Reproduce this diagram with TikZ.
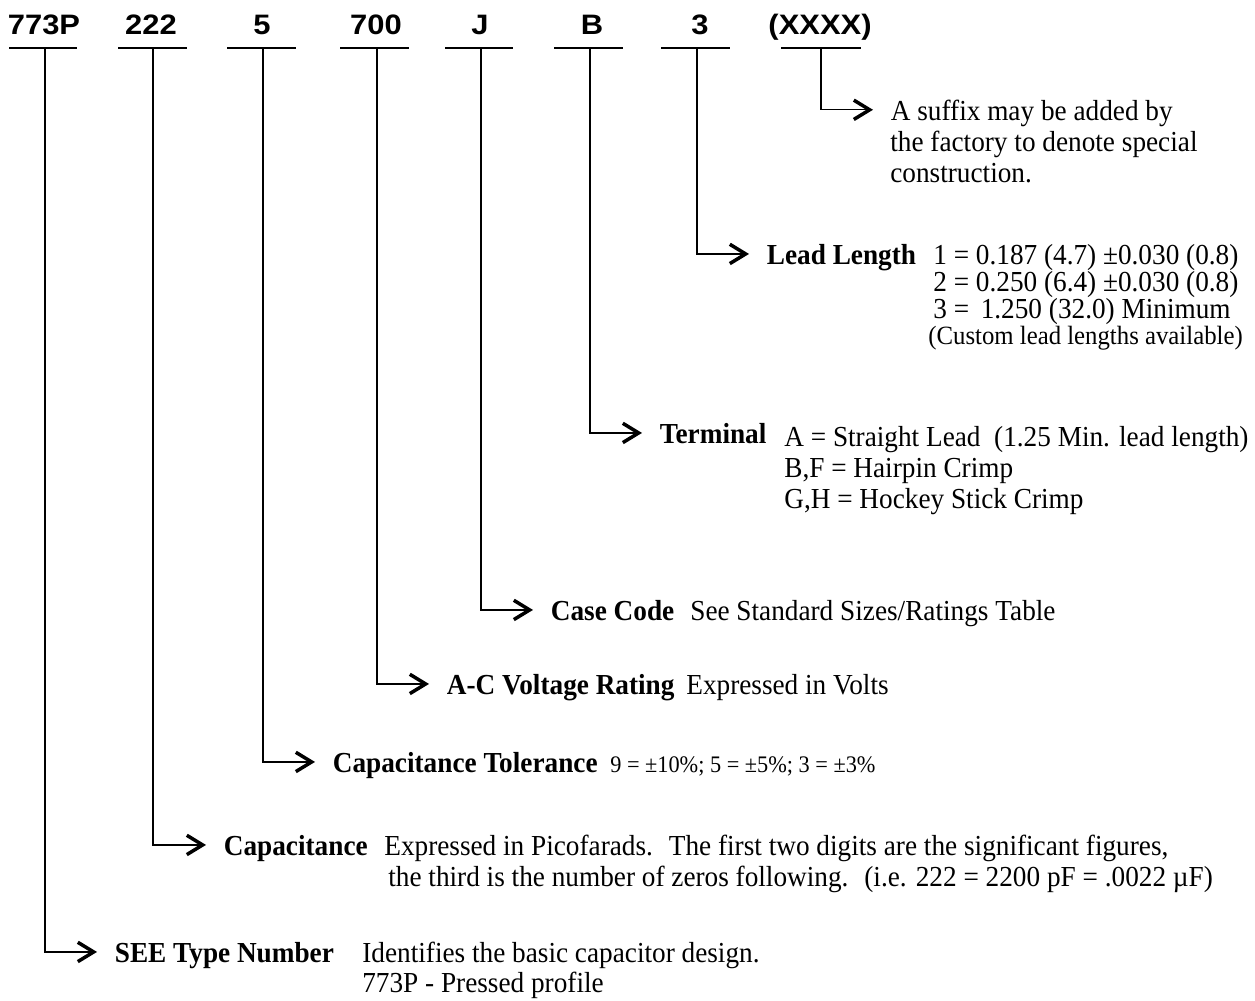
\documentclass[tikz,border=0pt]{standalone}
\usepackage{fontspec}
\setmainfont[FakeStretch=0.94]{Liberation Serif}
\newfontfamily\codefont[FakeStretch=1.1]{Liberation Sans}
\usepackage{tikz}
\usetikzlibrary{positioning, calc, arrows.meta}

\tikzset{
  code/.style = {font=\codefont\bfseries\fontsize{16}{18}\selectfont, inner sep=0pt, anchor=base},
  bar/.style = {line width=1.2pt},
  lead/.style = {line width=0.8pt, -{Straight Barb[length=9pt, width=11pt, line width=2pt]}},
  term/.style = {font=\bfseries\fontsize{16.5}{18}\selectfont, inner xsep=10pt, inner ysep=0pt, text depth=0pt, anchor=base west},
  termplain/.style = {term, font=\fontsize{16.5}{18}\selectfont},
  note/.style = {font=\fontsize{16.5}{18}\selectfont, inner sep=0pt, anchor=base west},
  fine/.style = {note, font=\fontsize{15}{16}\selectfont},
  tiny/.style = {note, font=\fontsize{13.5}{15}\selectfont}
}

\begin{document}
\begin{tikzpicture}[x=0.02cm, y=-0.02cm]
    \useasboundingbox (0,0) rectangle (1255,1001);

    % part number fields
    \foreach \n/\t/\cx/\ul/\ur/\vx in {773/773P/44/9/77/45, 222/222/151/118/187/153, 5/5/262/227/296/263, 700/700/376/340/409/377, J/J/480/445/513/481, B/B/592/554/623/590, 3/3/700/661/730/697, X/(XXXX)/820/781/861/821} {
        \node[code] (code\n) at (\cx,34) {\t};
        \draw[bar] (\ul,48) -- (\ur,48);
        \coordinate (tap\n) at (\vx,48);
    }

    % suffix
    \node[termplain] (suffix) at (873,120) {A suffix may be added by};
    \node[note] (suffix2) at ($(suffix.base west)+(17,31)$) {the factory to denote special};
    \node[note] (suffix3) at ($(suffix2.base west)+(0,31)$) {construction.};

    % lead length
    \node[term] (leadlen) at (749,264) {Lead Length};
    \node[note] (leadlen1) at (933,264) {1 = 0.187 (4.7) ±0.030 (0.8)};
    \node[note] (leadlen2) at ($(leadlen1.base west)+(0,27)$) {2 = 0.250 (6.4) ±0.030 (0.8)};
    \node[note] (leadlen3) at ($(leadlen2.base west)+(0,27)$) {3 = \,1.250 (32.0) Minimum};
    \node[fine] (leadlen4) at ($(leadlen3.base west)+(-5,26)$) {(Custom lead lengths available)};

    % terminal
    \node[term] (terminal) at (642,443) {Terminal};
    \node[note] (terminal1) at (784,446) {A = Straight Lead \ (1.25 Min. lead length)};
    \node[note] (terminal2) at ($(terminal1.base west)+(0,31)$) {B,F = Hairpin Crimp};
    \node[note] (terminal3) at ($(terminal2.base west)+(0,31)$) {G,H = Hockey Stick Crimp};

    % case code
    \node[term] (casecode) at (533,620) {Case Code};
    \node[note] (casecode1) at (690,620) {See Standard Sizes/Ratings Table};

    % voltage
    \node[term] (voltage) at (429,694) {A-C Voltage Rating};
    \node[note] (voltage1) at (686,694) {Expressed in Volts};

    % tolerance
    \node[term] (tolerance) at (315,772) {Capacitance Tolerance};
    \node[tiny] (tolerance1) at (610,772) {9 = ±10\%; 5 = ±5\%; 3 = ±3\%};

    % capacitance
    \node[term] (capacitance) at (206,855) {Capacitance};
    \node[note] (capacitance1) at (384,855) {Expressed in Picofarads. \ The first two digits are the significant figures,};
    \node[note] (capacitance2) at ($(capacitance1.base west)+(4,31)$) {the third is the number of zeros following. \ (i.e. 222 = 2200 pF = .0022 µF)};

    % type number
    \node[term] (typenum) at (97,962) {SEE Type Number};
    \node[note] (typenum1) at (362,962) {Identifies the basic capacitor design.};
    \node[note] (typenum2) at ($(typenum1.base west)+(0,30)$) {773P - Pressed profile};

    \draw[lead] (tapX) |- (suffix);
    \draw[lead] (tap3) |- (leadlen);
    \draw[lead] (tapB) |- (terminal);
    \draw[lead] (tapJ) |- (casecode);
    \draw[lead] (tap700) |- (voltage);
    \draw[lead] (tap5) |- (tolerance);
    \draw[lead] (tap222) |- (capacitance);
    \draw[lead] (tap773) |- (typenum);
\end{tikzpicture}
\end{document}
